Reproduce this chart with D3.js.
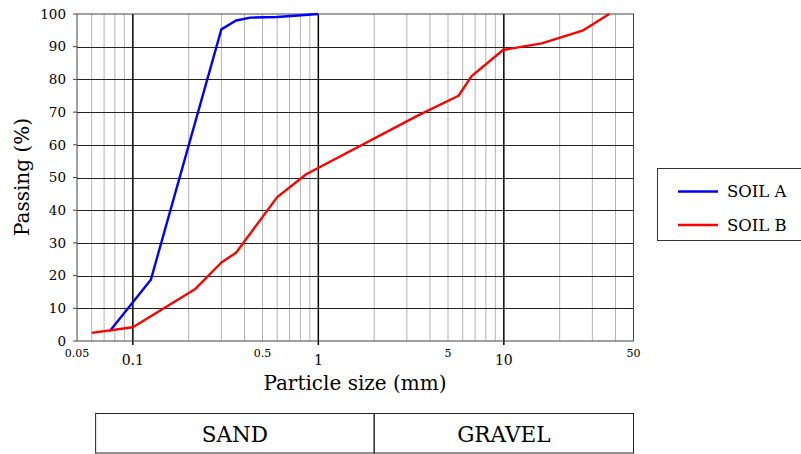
<!DOCTYPE html>
<html>
<head>
<meta charset="utf-8">
<script src="https://cdn.jsdelivr.net/npm/d3@7"></script>
<style>
  html, body { margin: 0; padding: 0; background: #fff; }
  svg { display: block; }
</style>
</head>
<body>
<svg id="chart" width="801" height="454"></svg>
<script>
// ---- data ----
const soilASize    = [0.075, 0.125, 0.3, 0.36, 0.43, 0.6, 1.0];
const soilAPassing = [3, 18.7, 95.3, 98, 98.9, 99.1, 100];

const soilBSize    = [0.06, 0.1, 0.172, 0.216, 0.3, 0.36, 0.6, 0.86, 3.45, 5.7, 6.7, 9.9, 16, 26.8, 37];
const soilBPassing = [2.5, 4.2, 12.4, 15.8, 24, 27, 44, 51, 69, 75, 81, 89, 91, 95, 100];

const seriesNames  = ["SOIL A", "SOIL B"];
const seriesColors = ["#0000ff", "#ff0000"];

const xMajorTicks  = [0.1, 1, 10];
const xMajorLabels = ["0.1", "1", "10"];
const xMinorLabelTicks = [0.05, 0.5, 5, 50];
const xMinorLabels = ["0.05", "0.5", "5", "50"];
const yTicks = [0, 10, 20, 30, 40, 50, 60, 70, 80, 90, 100];

const zoneNames  = ["SAND", "GRAVEL"];
const zoneBounds = [0.063, 2, 50];

// ---- layout ----
const FONT = "DejaVu Serif";
const svg = d3.select("#chart").style("font-family", FONT);
const L = 77, R = 633.5, T = 14, B = 341;
const x = d3.scaleLog().domain([0.05, 50]).range([L, R]);
const y = d3.scaleLinear().domain([0, 100]).range([B, T]);

// minor vertical grid
const minorX = x.ticks().filter(v => !xMajorTicks.some(m => Math.abs(m - v) < 1e-9) && v > 0.05 && v < 50);
svg.append("g").selectAll("line").data(minorX).join("line")
  .attr("x1", d => x(d)).attr("x2", d => x(d))
  .attr("y1", T).attr("y2", B)
  .attr("stroke", "#b4b4b4").attr("stroke-width", 1);

// horizontal grid
svg.append("g").selectAll("line").data(yTicks.filter(v => v > 0 && v < 100)).join("line")
  .attr("x1", L).attr("x2", R)
  .attr("y1", d => Math.round(y(d)) + 0.5).attr("y2", d => Math.round(y(d)) + 0.5)
  .attr("stroke", "#222").attr("stroke-width", 1);

// major vertical lines
svg.append("g").selectAll("line").data(xMajorTicks).join("line")
  .attr("x1", d => x(d)).attr("x2", d => x(d))
  .attr("y1", T).attr("y2", B + 4)
  .attr("stroke", "#000").attr("stroke-width", 1.5);

// frame
svg.append("rect").attr("x", L).attr("y", T).attr("width", R - L).attr("height", B - T)
  .attr("fill", "none").attr("stroke", "#444").attr("stroke-width", 1);

// y ticks
svg.append("g").selectAll("line").data(yTicks).join("line")
  .attr("x1", L - 4).attr("x2", L)
  .attr("y1", d => y(d)).attr("y2", d => y(d))
  .attr("stroke", "#444");
svg.append("g").selectAll("text").data(yTicks).join("text")
  .attr("x", 66).attr("y", d => y(d)).attr("dy", "0.35em")
  .attr("text-anchor", "end").attr("font-size", 13.5).text(d => d);

// x labels
svg.append("g").selectAll("text").data(xMajorTicks).join("text")
  .attr("x", d => x(d)).attr("y", 365)
  .attr("text-anchor", "middle").attr("font-size", 14).text((d, i) => xMajorLabels[i]);
svg.append("g").selectAll("text").data(xMinorLabelTicks).join("text")
  .attr("x", d => x(d)).attr("y", 357)
  .attr("text-anchor", "middle").attr("font-size", 11).text((d, i) => xMinorLabels[i]);

// axis titles
svg.append("text").attr("x", 355).attr("y", 390).attr("text-anchor", "middle")
  .attr("font-size", 20).text("Particle size (mm)");
svg.append("text").attr("transform", "translate(29,177) rotate(-90)").attr("text-anchor", "middle")
  .attr("font-size", 20).text("Passing (%)");

// series
const line = d3.line().x(d => x(d[0])).y(d => y(d[1]));
const seriesData = [
  d3.zip(soilASize, soilAPassing),
  d3.zip(soilBSize, soilBPassing)
];
svg.append("g").selectAll("path").data(seriesData).join("path")
  .attr("d", line).attr("fill", "none")
  .attr("stroke", (d, i) => seriesColors[i]).attr("stroke-width", 2.4)
  .attr("stroke-linejoin", "round");

// legend
const lg = svg.append("g");
lg.append("rect").attr("x", 657.5).attr("y", 168.5).attr("width", 160).attr("height", 72)
  .attr("fill", "#fff").attr("stroke", "#333").attr("stroke-width", 1);
seriesNames.forEach((n, i) => {
  const yy = 191.5 + i * 33.5;
  lg.append("line").attr("x1", 678).attr("x2", 718).attr("y1", yy).attr("y2", yy)
    .attr("stroke", seriesColors[i]).attr("stroke-width", 2.4);
  lg.append("text").attr("x", 727).attr("y", yy).attr("dy", "0.35em")
    .attr("font-size", 16.5).text(n);
});

// soil zones
const zg = svg.append("g");
zoneNames.forEach((n, i) => {
  const x0 = x(zoneBounds[i]), x1 = x(zoneBounds[i + 1]);
  zg.append("rect").attr("x", x0).attr("y", 413.5).attr("width", x1 - x0).attr("height", 39.5)
    .attr("fill", "none").attr("stroke", "#222").attr("stroke-width", 1);
  zg.append("text").attr("x", (x0 + x1) / 2).attr("y", 434).attr("dy", "0.35em")
    .attr("text-anchor", "middle").attr("font-size", 21.5).text(n);
});
</script>
</body>
</html>
